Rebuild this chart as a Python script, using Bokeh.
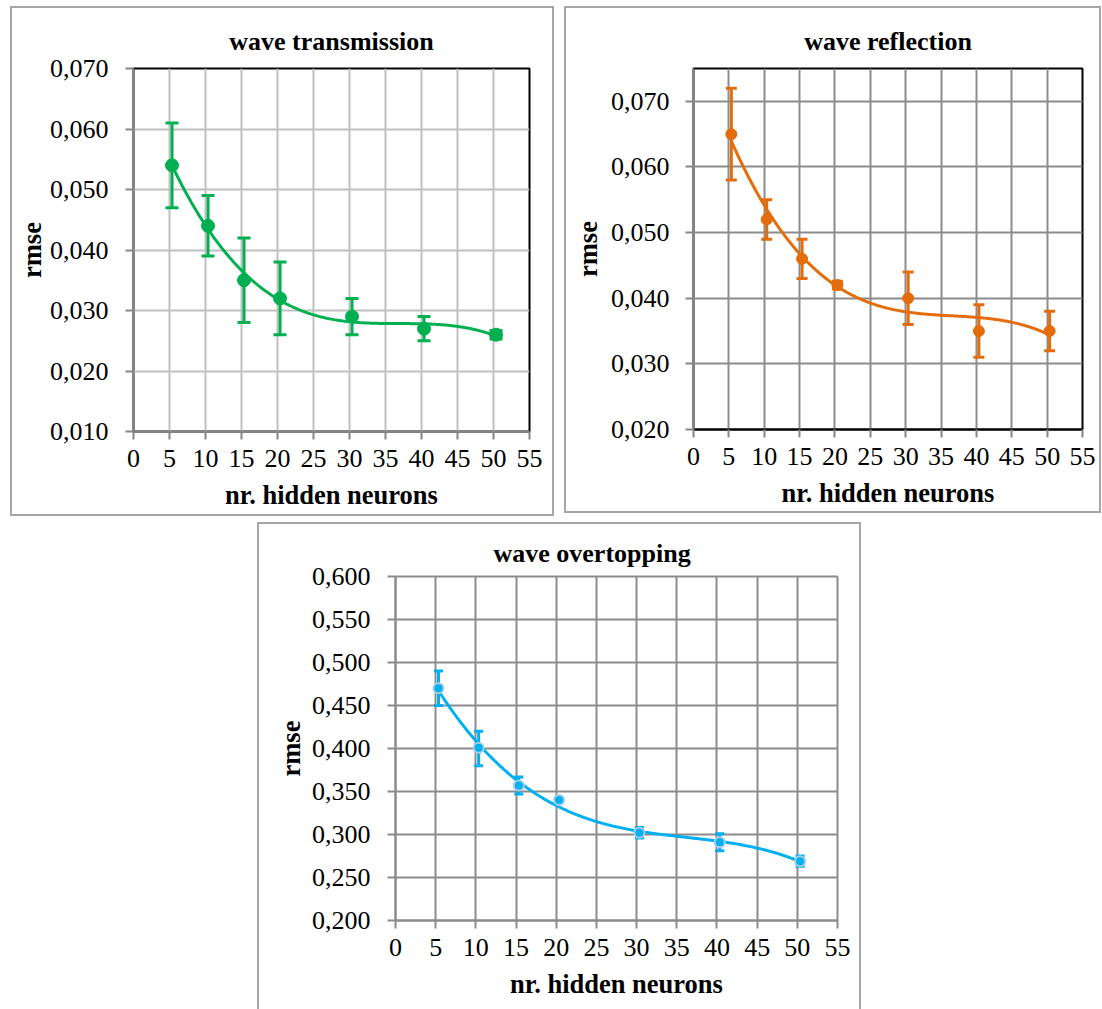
import numpy as np
from bokeh.plotting import figure
from bokeh.models import (Range1d, FixedTicker, CustomJSTickFormatter, Whisker,
                          TeeHead, ColumnDataSource)
from bokeh.transform import dodge
from bokeh.layouts import column, row
from bokeh.embed import file_html
from bokeh.resources import INLINE

# ---------------- data ----------------
neurons = [5, 10, 15, 20, 30, 40, 50]

trans_rmse = [0.054, 0.044, 0.035, 0.032, 0.029, 0.027, 0.026]
trans_upper = [0.061, 0.049, 0.042, 0.038, 0.032, 0.029, 0.0267]
trans_lower = [0.047, 0.039, 0.028, 0.026, 0.026, 0.025, 0.0253]

refl_rmse = [0.065, 0.052, 0.046, 0.042, 0.040, 0.035, 0.035]
refl_upper = [0.072, 0.055, 0.049, 0.0426, 0.044, 0.039, 0.038]
refl_lower = [0.058, 0.049, 0.043, 0.0414, 0.036, 0.031, 0.032]

over_rmse = [0.470, 0.401, 0.357, 0.340, 0.302, 0.291, 0.269]
over_upper = [0.490, 0.420, 0.367, 0.343, 0.308, 0.301, 0.275]
over_lower = [0.450, 0.380, 0.347, 0.337, 0.296, 0.281, 0.263]

x_ticks = [0, 5, 10, 15, 20, 25, 30, 35, 40, 45, 50, 55]
trans_yticks = [0.010, 0.020, 0.030, 0.040, 0.050, 0.060, 0.070]
refl_yticks = [0.020, 0.030, 0.040, 0.050, 0.060, 0.070]
over_yticks = [0.200, 0.250, 0.300, 0.350, 0.400, 0.450, 0.500, 0.550, 0.600]

titles = ["wave transmission", "wave reflection", "wave overtopping"]
x_label = "nr. hidden neurons"
y_label = "rmse"

FONT = "Liberation Serif"
X_SHIFT = 0.35


def make_panel(title, rmse, upper, lower, yticks, yrange, color, cfg):
    p = figure(frame_width=cfg["fw"], frame_height=cfg["fh"],
               min_border_left=cfg["ml"], min_border_right=cfg["mr"],
               min_border_top=cfg["mt"], min_border_bottom=cfg["mb"],
               x_range=Range1d(0, 55), y_range=Range1d(*yrange),
               output_backend="svg", toolbar_location=None,
               background_fill_color="white", border_fill_color="white",
               margin=cfg["margin"], styles=cfg["styles"])
    p.title.text = title
    p.title.text_font = FONT
    p.title.text_font_size = "26px"
    p.title.text_font_style = "bold"
    p.title.text_color = "black"
    p.title.align = cfg.get("talign", "center")
    p.title.offset = cfg.get("toff", 0)
    p.title.standoff = cfg.get("tstand", 25)

    p.xaxis.ticker = FixedTicker(ticks=x_ticks)
    p.yaxis.ticker = FixedTicker(ticks=yticks)
    p.yaxis.formatter = CustomJSTickFormatter(code="return tick.toFixed(3).replace('.', ',');")
    for ax in (p.xaxis[0], p.yaxis[0]):
        ax.major_label_text_font = FONT
        ax.major_label_text_font_size = "26px"
        ax.major_label_text_color = "black"
        ax.axis_label_text_font = FONT
        ax.axis_label_text_font_size = "26.5px"
        ax.axis_label_text_font_style = "bold"
        ax.axis_label_text_color = "black"
        ax.major_tick_in = 0
        ax.major_tick_out = 8
        ax.major_tick_line_color = cfg["axis_color"]
        ax.major_tick_line_width = 2
        ax.minor_tick_line_color = None
        ax.axis_line_color = cfg["axis_color"]
        ax.axis_line_width = 2
    p.xaxis.axis_label = x_label
    p.yaxis.axis_label = y_label
    p.xaxis.major_label_standoff = cfg.get("xstand", 10)
    p.yaxis.major_label_standoff = cfg.get("ystand", 17)
    p.xaxis.axis_label_standoff = cfg.get("xlstand", 10)
    p.yaxis.axis_label_standoff = cfg.get("ylstand", 0)
    if cfg.get("bottom_axis_color"):
        p.xaxis.axis_line_color = cfg["bottom_axis_color"]

    p.xgrid.grid_line_color = cfg["grid_color"]
    p.ygrid.grid_line_color = cfg["grid_color"]
    p.xgrid.grid_line_width = 2
    p.ygrid.grid_line_width = 2
    p.outline_line_color = cfg["outline_color"]
    p.outline_line_width = 2
    p.outline_line_alpha = 1

    src = ColumnDataSource(dict(x=neurons, y=rmse, upper=upper, lower=lower))
    xs = np.linspace(min(neurons), max(neurons), 300)
    coef = np.polyfit(neurons, rmse, cfg.get("deg", 3))
    trend = ColumnDataSource(dict(x=xs, y=np.polyval(coef, xs)))

    p.line(x=dodge("x", X_SHIFT, range=p.x_range), y="y", source=trend,
           line_color=color, line_width=3)
    head = dict(size=cfg["cap"], line_color=color, line_width=3)
    w = Whisker(source=src, base=dodge("x", X_SHIFT, range=p.x_range),
                upper="upper", lower="lower", line_color=color, line_width=3,
                upper_head=TeeHead(**head), lower_head=TeeHead(**head))
    p.add_layout(w)
    p.scatter(x=dodge("x", X_SHIFT, range=p.x_range), y="y", source=src,
              size=cfg["msize"], fill_color=color,
              line_color=cfg.get("mline", color), line_width=cfg.get("mlw", 1))
    return p


BORDER = "2px solid #a6a6a6"

p1 = make_panel(titles[0], trans_rmse, trans_upper, trans_lower, trans_yticks,
                (0.010, 0.070), "#00b050",
                dict(fw=392, fh=359, ml=121, mr=27, mt=58, mb=89,
                     margin=(6, 0, 0, 10), styles={"border": BORDER},
                     axis_color="#868686", grid_color="#c0c0c0",
                     outline_color="black", cap=13, msize=13,
                     ystand=17, ylstand=0, tstand=25))

p2 = make_panel(titles[1], refl_rmse, refl_upper, refl_lower, refl_yticks,
                (0.020, 0.075), "#e46c0a",
                dict(fw=385, fh=357, ml=127, mr=21, mt=60, mb=86,
                     margin=(6, 0, 0, 10), styles={"border": BORDER},
                     axis_color="#868686", grid_color="#8c8c8c",
                     outline_color="black", bottom_axis_color="black",
                     cap=11, msize=11, ystand=16, ylstand=5, tstand=25))

p3 = make_panel(titles[2], over_rmse, over_upper, over_lower, over_yticks,
                (0.200, 0.600), "#00b0f0",
                dict(fw=438, fh=342, ml=136, mr=26, mt=52, mb=91,
                     margin=(6, 0, 0, 257),
                     styles={"border": BORDER, "border-bottom": "none"},
                     axis_color="#8c8c8c", grid_color="#8c8c8c",
                     outline_color="#8c8c8c", cap=9, msize=10,
                     mline="#a9cde3", mlw=2, talign="left", toff=98, tstand=17,
                     ystand=17, ylstand=3))

layout = column(row(p1, p2), p3)

html = file_html(layout, INLINE)
html = html.replace("<head>", "<head><style>html,body{margin:0;padding:0;}</style>", 1)
open("out.html", "w").write(html)
